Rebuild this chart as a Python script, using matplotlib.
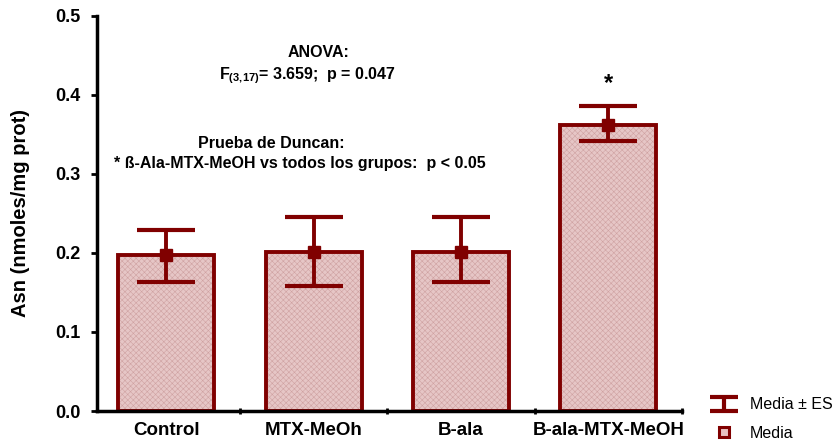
import numpy as np
import matplotlib.pyplot as plt
from matplotlib.path import Path
from matplotlib.lines import Line2D

plt.rcParams['font.family'] = ['Liberation Sans', 'DejaVu Sans']
plt.rcParams['mathtext.fontset'] = 'custom'
plt.rcParams['mathtext.rm'] = 'Liberation Sans:bold'
plt.rcParams['mathtext.bf'] = 'Liberation Sans:bold'
plt.rcParams['hatch.linewidth'] = 0.4

grupos = ['Control', 'MTX-MeOh', 'B-ala', 'B-ala-MTX-MeOH']
media = [0.197, 0.201, 0.201, 0.362]
es_sup = [0.229, 0.246, 0.245, 0.386]
es_inf = [0.163, 0.158, 0.163, 0.342]

rojo = '#800000'
x = np.arange(len(grupos))
yerr = [np.array(media) - np.array(es_inf), np.array(es_sup) - np.array(media)]

fig = plt.figure(figsize=(8.38, 4.44), dpi=100)
ax = fig.add_axes([0.1158, 0.0743, 0.698, 0.89])

# relleno rosa con textura fina, luego el contorno
ax.bar(x, media, width=0.65, color='#e6c6c6', edgecolor='#cfa2a2', hatch='xxxxxx', linewidth=0, zorder=1)
ax.bar(x, media, width=0.65, fill=False, edgecolor=rojo, linewidth=2.8, zorder=2)
ax.errorbar(x, media, yerr=yerr, fmt='none', ecolor=rojo, elinewidth=2.8,
            capsize=21, capthick=3, zorder=3)
ax.plot(x, media, 's', color=rojo, markersize=8, zorder=4, linestyle='none')

ax.text(3, 0.414, '*', ha='center', va='center', fontsize=17, fontweight='bold')

fs = 11.5
ax.text(1.03, 0.453, 'ANOVA:', ha='center', va='center', fontsize=fs, fontweight='bold')
ax.text(0.96, 0.424, r'F$_{(3{,}17)}$= 3.659;  p = 0.047', ha='center', va='center',
        fontsize=fs, fontweight='bold')
ax.text(0.71, 0.339, 'Prueba de Duncan:', ha='center', va='center', fontsize=fs, fontweight='bold')
ax.text(0.905, 0.313, '* ß-Ala-MTX-MeOH vs todos los grupos:  p < 0.05', ha='center', va='center',
        fontsize=fs, fontweight='bold')

ax.set_xlim(-0.47, 3.5)
ax.set_ylim(0, 0.5)
ax.set_xticks(x, grupos, fontsize=13.5, fontweight='bold')
ax.set_xticks([0.5, 1.5, 2.5, 3.5], minor=True)
ax.tick_params(axis='x', which='major', length=0, pad=8)
ax.tick_params(axis='x', which='minor', length=5, width=2, direction='inout')
ax.set_yticks([0, 0.1, 0.2, 0.3, 0.4, 0.5])
ax.set_yticklabels(['0.0', '0.1', '0.2', '0.3', '0.4', '0.5'], fontsize=13, fontweight='bold')
ax.tick_params(axis='y', length=4, width=2, direction='out', pad=8)
ax.set_ylabel('Asn (nmoles/mg prot)', fontsize=14.5, fontweight='bold', labelpad=18)

for s in ['top', 'right']:
    ax.spines[s].set_visible(False)
for s in ['left', 'bottom']:
    ax.spines[s].set_linewidth(2.5)

# simbolos de la leyenda: barra de error tipo "I" y cuadrado de la media
barra_i = Path([(-1, 0.5), (1, 0.5), (0, 0.5), (0, -0.5), (-1, -0.5), (1, -0.5)],
               [Path.MOVETO, Path.LINETO, Path.MOVETO, Path.LINETO, Path.MOVETO, Path.LINETO])
h_es = Line2D([], [], linestyle='none', marker=barra_i, markersize=20, markeredgewidth=3,
              color=rojo)
h_media = Line2D([], [], linestyle='none', marker='s', markersize=7, markeredgewidth=2.2,
                 markeredgecolor=rojo, markerfacecolor='#e8c0c0')
ax.legend([h_es, h_media], ['Media ± ES', 'Media'], loc='lower left',
          bbox_to_anchor=(0.83, -0.025), bbox_transform=fig.transFigure,
          frameon=False, fontsize=11.5, handlelength=1.8, handletextpad=0.7, labelspacing=0.85)

fig.savefig('out.png', dpi=100)
